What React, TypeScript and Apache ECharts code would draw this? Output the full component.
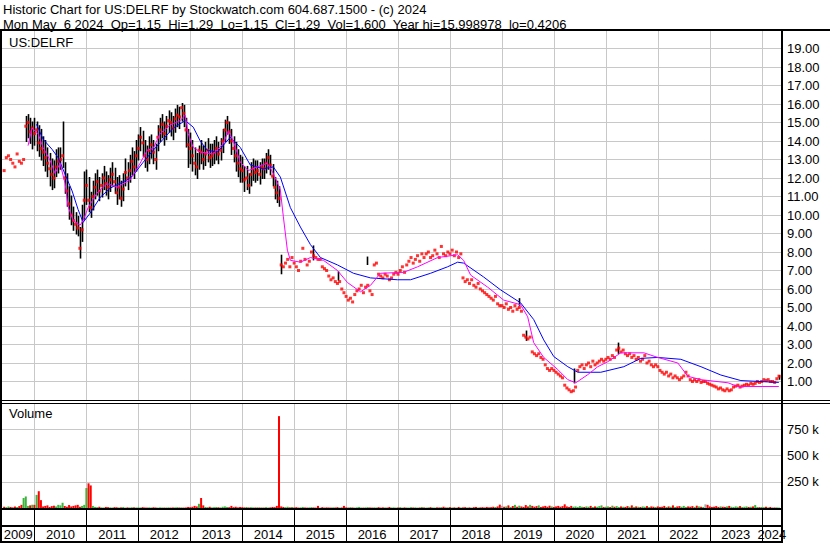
import React, { useEffect, useRef } from "react";
import * as echarts from "echarts";

const headerLine1 = "Historic Chart for US:DELRF by Stockwatch.com 604.687.1500 - (c) 2024";
const headerLine2 = "Mon May  6 2024  Op=1.15  Hi=1.29  Lo=1.15  Cl=1.29  Vol=1,600  Year hi=15.998978  lo=0.4206";
const symbolLabel = "US:DELRF";
const volumeLabel = "Volume";

// x axis in fractional years
const xMin = 2009.3755;
const xMax = 2024.3911;
const firstSample = 2009 + 5 / 12; // 1 Jun 2009, then every half month
const samplesPerYear = 24;

const yearBoundaries = [2010, 2011, 2012, 2013, 2014, 2015, 2016, 2017, 2018, 2019, 2020, 2021, 2022, 2023, 2024];
const yearLabels = [2009, 2010, 2011, 2012, 2013, 2014, 2015, 2016, 2017, 2018, 2019, 2020, 2021, 2022, 2023, 2024];

// half-monthly closes
const closes = [
  12.4, 13.1, 13.2, 13.0, 12.8, 12.6, 13.3, 12.9, 12.8, 13.0, 14.8, 15.0, 14.5, 14.7,
  14.4, 14.6, 13.9, 13.6, 13.4, 13.1, 12.8, 12.5, 12.2, 12.0, 12.6, 12.9, 13.0, 13.2, 12.0, 11.3, 10.6, 10.0, 9.7, 9.5, 9.3, 8.2, 9.2, 10.8,
  11.6, 10.8, 10.4, 11.0, 11.5, 11.8, 11.3, 11.6, 12.0, 11.7, 11.5, 11.9, 12.2, 11.8, 11.2, 11.5, 10.9, 11.4, 12.3, 12.0, 12.4, 12.9, 12.6, 13.2,
  13.6, 14.2, 13.9, 13.2, 13.0, 13.5, 13.8, 13.4, 13.0, 14.2, 14.6, 14.9, 14.4, 14.8, 15.1, 15.0, 14.7, 15.2, 15.4, 15.3, 15.8, 15.5, 14.6, 13.8,
  13.6, 13.2, 12.8, 12.6, 13.5, 13.4, 13.0, 13.3, 13.5, 13.1, 13.2, 13.4, 13.6, 13.3, 13.5, 14.0, 14.6, 15.0, 14.5, 14.0, 13.6, 13.2, 12.8, 12.5,
  12.4, 11.9, 12.0, 11.6, 12.2, 12.5, 12.3, 12.4, 12.2, 12.6, 12.5, 12.8, 13.1, 12.7, 12.1, 11.5, 11.2, 10.9, 7.3, 7.2, 7.4, 7.6, 7.2, 7.7,
  7.4, 7.2, 7.0, 7.5, 8.2, 7.6, 7.3, 7.5, 8.0, 7.8, 7.7, 7.6, 7.6, 7.2, 7.1, 7.0, 6.7, 6.5, 6.6, 6.4, 6.3, 6.4, 6.0, 5.8,
  5.6, 5.4, 5.5, 5.3, 5.7, 5.9, 6.0, 6.2, 5.8, 6.1, 6.2, 5.9, 5.7, 7.3, 7.4, 6.8, 6.7, 6.6, 6.8, 6.7, 6.5, 6.6, 6.8, 6.9,
  6.8, 7.0, 7.2, 6.9, 7.3, 7.5, 7.7, 7.4, 7.6, 7.8, 7.5, 7.9, 7.7, 7.9, 8.0, 7.7, 7.8, 8.1, 7.9, 7.7, 8.3, 7.9, 7.8, 8.0,
  7.9, 8.1, 7.8, 8.0, 7.7, 7.9, 6.6, 6.4, 6.5, 6.3, 6.5, 6.2, 6.1, 6.3, 6.0, 5.9, 5.8, 5.7, 5.6, 5.5, 5.4, 5.6, 5.2, 5.1,
  5.1, 5.0, 5.2, 4.9, 5.0, 4.8, 5.1, 4.9, 5.0, 4.8, 3.5, 3.4, 3.3, 3.4, 2.6, 2.5, 2.4, 2.5, 2.3, 2.2, 1.9, 1.7, 1.6, 1.7,
  1.6, 1.5, 1.4, 1.3, 1.2, 0.8, 0.65, 0.55, 0.45, 0.5, 0.7, 1.6, 1.8, 1.9, 1.7, 1.9, 2.0, 1.8, 2.1, 1.9, 2.0, 2.1, 2.2, 2.1,
  2.2, 2.3, 2.2, 2.4, 2.3, 2.7, 2.8, 2.6, 2.7, 2.5, 2.4, 2.5, 2.3, 2.4, 2.2, 2.3, 2.1, 2.2, 2.4, 2.0, 2.1, 1.9, 1.8, 1.9,
  1.8, 1.6, 1.5, 1.4, 1.5, 1.3, 1.4, 1.2, 1.3, 1.2, 1.1, 1.2, 1.3, 1.5, 1.3, 1.1, 1.0, 1.1, 1.0, 1.1, 0.95, 1.0, 1.0, 0.9,
  0.85, 0.8, 0.75, 0.7, 0.6, 0.65, 0.55, 0.5, 0.6, 0.5, 0.55, 0.7, 0.75, 0.8, 0.7, 0.75, 0.8, 0.85, 0.8, 0.9, 0.85, 0.9, 1.0, 0.95,
  1.0, 1.1, 1.05, 1.1, 1.0, 1.0, 0.95, 1.15, 1.29,
];

// half-monthly high/low ranges (2009 - 2014)
const rangeHighs = [
  null, null, null, null, null, null, null, null, null, null, 15.3, 15.4, 15.2, 15.0,
  15.2, 15.0, 14.8, 14.6, 14.2, 14.0, 13.6, 13.3, 13.0, 12.9, 13.5, 13.6, 13.6, 15.0, 12.8, 12.2, 11.5, 11.0, 10.4, 10.1, 9.9, 9.3, 10.5, 12.3,
  12.4, 12.0, 11.2, 11.8, 12.2, 12.4, 12.0, 12.2, 12.6, 12.3, 12.1, 12.5, 12.8, 12.5, 12.0, 12.1, 11.8, 12.2, 13.0, 12.8, 13.2, 13.6, 13.4, 14.0,
  14.3, 14.7, 14.5, 14.0, 13.7, 14.2, 14.3, 14.0, 13.8, 14.8, 15.2, 15.4, 15.0, 15.3, 15.6, 15.5, 15.3, 15.7, 15.9, 15.8, 16.0, 15.9, 15.2, 14.6,
  14.4, 14.0, 13.6, 13.3, 13.7, 14.0, 13.7, 13.9, 14.1, 13.8, 13.8, 14.0, 14.2, 13.9, 14.1, 14.6, 15.1, 15.3, 15.0, 14.6, 14.2, 13.9, 13.5, 13.2,
  13.1, 12.6, 12.6, 12.2, 12.8, 13.0, 12.9, 12.9, 12.8, 13.0, 13.0, 13.3, 13.5, 13.2, 12.7, 12.0, 11.8, 11.5, 7.8, null, null, null, null, null,
];
const rangeLows = [
  null, null, null, null, null, null, null, null, null, null, 14.0, 14.2, 13.9, 13.6,
  13.8, 13.5, 13.2, 13.0, 12.7, 12.4, 12.1, 11.6, 11.4, 11.5, 12.1, 12.3, 12.5, 12.6, 11.2, 10.5, 9.8, 9.5, 9.2, 9.0, 8.9, 7.7, 8.6, 9.8,
  10.6, 10.2, 9.9, 10.3, 10.9, 11.1, 10.8, 11.0, 11.4, 11.1, 10.9, 11.3, 11.6, 11.2, 10.6, 10.9, 10.5, 10.8, 11.6, 11.4, 11.8, 12.2, 12.0, 12.4,
  13.0, 13.5, 13.2, 12.6, 12.4, 12.8, 13.1, 12.8, 12.5, 13.5, 14.0, 14.2, 13.8, 14.1, 14.5, 14.3, 14.1, 14.5, 14.8, 14.7, 15.1, 14.8, 13.7, 12.6,
  12.8, 12.4, 12.2, 12.0, 12.5, 12.8, 12.5, 12.7, 12.9, 12.6, 12.7, 12.8, 13.0, 12.8, 13.0, 13.4, 14.0, 14.4, 13.9, 13.3, 12.9, 12.4, 12.1, 11.8,
  11.8, 11.3, 11.4, 11.2, 11.6, 11.9, 11.8, 11.9, 11.7, 12.0, 12.0, 12.3, 12.5, 12.2, 11.6, 10.9, 10.7, 10.5, 6.85, null, null, null, null, null,
];

// occasional later high/low bars
const extraBarYears = [2015.37, 2015.85, 2016.41, 2019.33, 2019.47, 2020.38, 2021.23, 2024.33];
const extraBarLows = [7.6, 6.5, 7.35, 5.15, 3.25, 0.95, 2.55, 1.15];
const extraBarHighs = [8.3, 6.9, 7.7, 5.45, 3.7, 1.65, 3.05, 1.29];

// half-monthly volume, thousands
const volumesK = [
  12, 8, 15, 10, 6, 14, 9, 18, 30, 95, 110, 20, 25, 30,
  30, 125, 160, 75, 15, 20, 25, 10, 18, 22, 15, 30, 25, 50, 20, 12, 28, 15, 20, 25, 30, 12, 20, 30,
  190, 235, 215, 20, 10, 8, 12, 6, 5, 10, 8, 6, 5, 8, 7, 5, 6, 9, 4, 6, 5, 7, 6, 5,
  6, 5, 8, 5, 4, 6, 5, 7, 5, 4, 6, 5, 4, 5, 6, 4, 5, 6, 8, 5, 6, 4, 5, 10,
  8, 12, 20, 15, 40, 95, 25, 10, 8, 12, 6, 8, 10, 7, 6, 12, 15, 10, 8, 20, 8, 12, 6, 10,
  8, 6, 10, 5, 8, 6, 5, 7, 5, 6, 4, 8, 5, 6, 10, 8, 20, 875, 15, 10, 8, 12, 6, 10,
  5, 8, 4, 6, 10, 5, 4, 6, 8, 5, 4, 20, 5, 8, 4, 6, 5, 4, 6, 5, 8, 4, 5, 20,
  6, 4, 8, 5, 4, 6, 10, 5, 4, 6, 8, 5, 4, 6, 5, 8, 4, 6, 5, 4, 10, 5, 6, 4,
  5, 8, 4, 6, 5, 4, 8, 5, 6, 4, 5, 10, 5, 4, 6, 8, 5, 4, 6, 5, 8, 12, 5, 6,
  8, 5, 6, 4, 10, 5, 6, 8, 5, 6, 4, 8, 10, 5, 6, 8, 5, 10, 6, 8, 12, 10, 15, 32,
  20, 12, 15, 25, 10, 18, 30, 12, 22, 15, 10, 28, 15, 30, 20, 12, 18, 25, 10, 15, 20, 12, 22, 15,
  10, 15, 20, 12, 18, 35, 15, 10, 20, 12, 15, 10, 18, 12, 10, 15, 12, 20, 10, 15, 12, 18, 25, 10,
  12, 15, 10, 22, 12, 18, 10, 15, 12, 10, 18, 12, 25, 10, 15, 12, 10, 15, 12, 18, 10, 15, 12, 10,
  15, 10, 12, 20, 10, 15, 12, 25, 10, 15, 18, 12, 20, 10, 15, 12, 18, 10, 22, 15, 12, 10, 35, 30,
  15, 10, 12, 18, 10, 15, 12, 10, 15, 20, 12, 10, 15, 12, 18, 10, 12, 15, 10, 12, 15, 28, 10, 8,
  10, 8, 12, 6, 10, 8, 5, 6, 4,
];

// moving averages
const blueMaYears = [2010.04, 2010.166, 2010.339, 2010.455, 2010.59, 2010.725, 2010.84, 2010.937, 2011.072, 2011.265, 2011.457, 2011.785, 2011.9, 2012.093, 2012.286, 2012.479, 2012.672, 2012.903, 2013.057, 2013.192, 2013.327, 2013.52, 2013.77, 2013.963, 2014.156, 2014.406, 2014.599, 2014.734, 2014.927, 2015.12, 2015.313, 2015.506, 2015.834, 2016.142, 2016.47, 2016.99, 2017.24, 2017.626, 2017.953, 2018.146, 2018.262, 2018.647, 2018.975, 2019.36, 2019.611, 2019.804, 2019.997, 2020.267, 2020.46, 2020.903, 2021.346, 2021.674, 2022.0, 2022.444, 2022.83, 2023.214, 2023.6, 2024.33];
const blueMaValues = [14.9, 14.1, 13.55, 13.1, 12.2, 11.3, 10.3, 9.6, 10.1, 10.95, 11.45, 11.9, 12.15, 12.85, 13.5, 14.1, 14.7, 15.1, 14.75, 14.0, 13.5, 13.4, 14.2, 13.65, 12.7, 12.5, 12.6, 12.05, 10.4, 9.35, 8.4, 7.7, 7.3, 6.85, 6.6, 6.5, 6.5, 6.85, 7.2, 7.45, 7.4, 6.65, 5.95, 5.25, 4.35, 3.25, 2.35, 1.8, 1.5, 1.5, 1.8, 2.25, 2.3, 2.2, 1.8, 1.35, 1.05, 0.95];

const magentaMaYears = [2009.877, 2009.954, 2010.069, 2010.166, 2010.301, 2010.397, 2010.493, 2010.59, 2010.648, 2010.744, 2010.879, 2010.937, 2011.033, 2011.207, 2011.399, 2011.592, 2011.843, 2012.035, 2012.17, 2012.286, 2012.42, 2012.613, 2012.806, 2012.903, 2012.96, 2013.057, 2013.192, 2013.443, 2013.635, 2013.732, 2013.828, 2013.963, 2014.117, 2014.29, 2014.483, 2014.599, 2014.734, 2014.792, 2014.869, 2014.927, 2015.12, 2015.313, 2015.563, 2015.834, 2016.026, 2016.277, 2016.47, 2016.662, 2017.106, 2017.376, 2017.761, 2018.146, 2018.262, 2018.397, 2018.725, 2019.033, 2019.36, 2019.495, 2019.611, 2019.804, 2020.073, 2020.267, 2020.421, 2020.652, 2020.845, 2021.038, 2021.288, 2021.732, 2022.0, 2022.386, 2022.579, 2022.83, 2023.35, 2023.542, 2024.33];
const magentaMaValues = [13.75, 14.7, 14.4, 13.65, 12.95, 12.25, 12.8, 11.7, 10.45, 9.7, 9.45, 9.7, 10.4, 11.2, 11.7, 11.5, 11.9, 12.8, 13.5, 13.6, 14.4, 14.85, 15.1, 15.4, 14.4, 13.65, 13.4, 13.3, 13.85, 14.55, 14.0, 12.85, 12.4, 12.6, 12.8, 12.25, 11.35, 9.9, 8.1, 7.55, 7.45, 7.7, 7.55, 7.0, 6.35, 5.85, 6.2, 6.85, 6.9, 7.2, 7.7, 7.85, 7.55, 6.75, 6.1, 5.4, 5.15, 4.5, 3.1, 2.3, 1.65, 1.1, 0.93, 1.37, 1.8, 2.07, 2.55, 2.55, 2.3, 2.0, 1.28, 1.1, 0.93, 0.73, 0.73];

const FONT_FAMILY = '"Liberation Sans", Arial, sans-serif';
const FONT = '13px ' + FONT_FAMILY;

const sampleYear = (i: number) => firstSample + i / samplesPerYear;

function buildOption() {
  const barData: number[][] = [];
  rangeHighs.forEach((h, i) => {
    const l = rangeLows[i];
    if (h != null && l != null) barData.push([sampleYear(i), l, h]);
  });
  extraBarYears.forEach((t, i) => barData.push([t, extraBarLows[i], extraBarHighs[i]]));

  const dotData = closes.map((c, i) => [sampleYear(i), c]);
  const volData = volumesK.map((v, i) => {
    const prev = i > 0 ? closes[i - 1] : closes[0] + 1;
    const color = closes[i] > prev ? "#3cb43c" : closes[i] < prev ? "#ff0000" : "#a8a8a8";
    return { value: [sampleYear(i), v], itemStyle: { color } };
  });

  const yearLine = (gridIdx: number, color: string) => ({
    type: "custom",
    xAxisIndex: gridIdx,
    yAxisIndex: gridIdx,
    z: 1,
    silent: true,
    data: yearBoundaries.map((y) => [y, 0]),
    renderItem: (params: any, api: any) => {
      const x = Math.round(api.coord([api.value(0), 0])[0]) + 0.5;
      const cs = params.coordSys;
      return {
        type: "line",
        shape: { x1: x, y1: cs.y, x2: x, y2: cs.y + cs.height },
        style: { stroke: color, lineWidth: 1 },
      };
    },
  });

  const line = (x1: number, y1: number, x2: number, y2: number, w: number) => ({
    type: "line",
    z: 100,
    silent: true,
    shape: { x1, y1, x2, y2 },
    style: { stroke: "#000", lineWidth: w },
  });
  const text = (x: number, y: number, t: string) => ({
    type: "text",
    z: 100,
    silent: true,
    x,
    y,
    style: {
      text: t,
      fill: "#000",
      font: FONT,
      align: "left",
      verticalAlign: "middle",
      textAlign: "left",
      textVerticalAlign: "middle",
    },
  });

  const axisLabel = (fmt: (v: number) => string) => ({
    margin: 5,
    color: "#000",
    fontSize: 13,
    fontFamily: FONT_FAMILY,
    formatter: fmt,
  });

  return {
    animation: false,
    backgroundColor: "#ffffff",
    grid: [
      { left: 2, right: 48, top: 30, height: 370 },
      { left: 2, right: 48, top: 403, height: 105 },
      { left: 2, right: 48, top: 510, height: 32 },
    ],
    xAxis: [0, 1, 2].map((g) => ({
      type: "value",
      gridIndex: g,
      min: xMin,
      max: xMax,
      show: false,
    })),
    yAxis: [
      {
        type: "value",
        gridIndex: 0,
        min: 0,
        max: 20,
        interval: 1,
        position: "right",
        axisLine: { show: false },
        axisTick: { show: false },
        splitLine: { show: true, lineStyle: { color: "#c8c8c8", width: 1 } },
        axisLabel: axisLabel((v: number) => (v <= 0 || v >= 20 ? "" : v.toFixed(2))),
      },
      {
        type: "value",
        gridIndex: 1,
        min: 0,
        max: 1000,
        interval: 250,
        position: "right",
        axisLine: { show: false },
        axisTick: { show: false },
        splitLine: { show: true, lineStyle: { color: "#c8c8c8", width: 1 } },
        axisLabel: axisLabel((v: number) => (v <= 0 || v >= 1000 ? "" : v + " k")),
      },
      { type: "value", gridIndex: 2, min: 0, max: 1, show: false },
    ],
    series: [
      yearLine(0, "#c8c8c8"),
      yearLine(1, "#c8c8c8"),
      yearLine(2, "#000000"),
      {
        type: "custom",
        xAxisIndex: 2,
        yAxisIndex: 2,
        z: 3,
        silent: true,
        data: yearLabels.map((y) => [y, 0]),
        renderItem: (params: any, api: any) => {
          const y = api.value(0);
          const a = api.coord([Math.max(y, xMin), 0])[0];
          const b = api.coord([Math.min(y + 1, xMax), 0])[0];
          const cs = params.coordSys;
          return {
            type: "text",
            x: (a + b) / 2,
            y: cs.y + cs.height - 8,
            style: {
              text: String(y),
              fill: "#000",
              font: FONT,
              align: "center",
              verticalAlign: "middle",
              textAlign: "center",
              textVerticalAlign: "middle",
            },
          };
        },
      },
      {
        type: "custom",
        name: "Range",
        xAxisIndex: 0,
        yAxisIndex: 0,
        z: 3,
        silent: true,
        data: barData,
        encode: { x: 0, y: [1, 2] },
        renderItem: (params: any, api: any) => {
          const p1 = api.coord([api.value(0), api.value(1)]);
          const p2 = api.coord([api.value(0), api.value(2)]);
          const x = Math.round(p1[0]) + 0.5;
          return {
            type: "line",
            shape: { x1: x, y1: p1[1] + 1, x2: x, y2: p2[1] - 1 },
            style: { stroke: "#000000", lineWidth: 1.6 },
          };
        },
      },
      {
        type: "scatter",
        name: "Close",
        xAxisIndex: 0,
        yAxisIndex: 0,
        z: 4,
        silent: true,
        symbol: "rect",
        symbolSize: 3,
        itemStyle: { color: "#ff0000" },
        data: dotData,
      },
      {
        type: "line",
        name: "MA long",
        xAxisIndex: 0,
        yAxisIndex: 0,
        z: 5,
        silent: true,
        showSymbol: false,
        lineStyle: { color: "#0000ff", width: 1 },
        data: blueMaYears.map((t, i) => [t, blueMaValues[i]]),
      },
      {
        type: "line",
        name: "MA short",
        xAxisIndex: 0,
        yAxisIndex: 0,
        z: 5,
        silent: true,
        showSymbol: false,
        lineStyle: { color: "#ff00ff", width: 1 },
        data: magentaMaYears.map((t, i) => [t, magentaMaValues[i]]),
      },
      {
        type: "bar",
        name: "Volume",
        xAxisIndex: 1,
        yAxisIndex: 1,
        z: 3,
        silent: true,
        barWidth: 2,
        data: volData,
      },
    ],
    graphic: [
      text(3, 9, headerLine1),
      text(3, 24, headerLine2),
      text(9, 42, symbolLabel),
      text(9, 413, volumeLabel),
      line(0, 30, 830, 30, 2),
      line(1, 30, 1, 543, 2),
      line(782, 30, 782, 543, 2),
      line(0, 400.5, 830, 400.5, 1),
      line(0, 403.5, 830, 403.5, 1),
      line(0, 509, 782, 509, 2),
      line(0, 526, 782, 526, 2),
      line(0, 542, 782, 542, 2),
    ],
  };
}

export default function App() {
  const ref = useRef<HTMLDivElement>(null);
  useEffect(() => {
    if (!ref.current) return;
    const chart = echarts.init(ref.current, null, { renderer: "svg" });
    chart.setOption(buildOption() as any);
    return () => chart.dispose();
  }, []);
  return (
    <div
      ref={ref}
      style={{ position: "fixed", left: 0, top: 0, width: 830, height: 543, background: "#ffffff" }}
    />
  );
}
